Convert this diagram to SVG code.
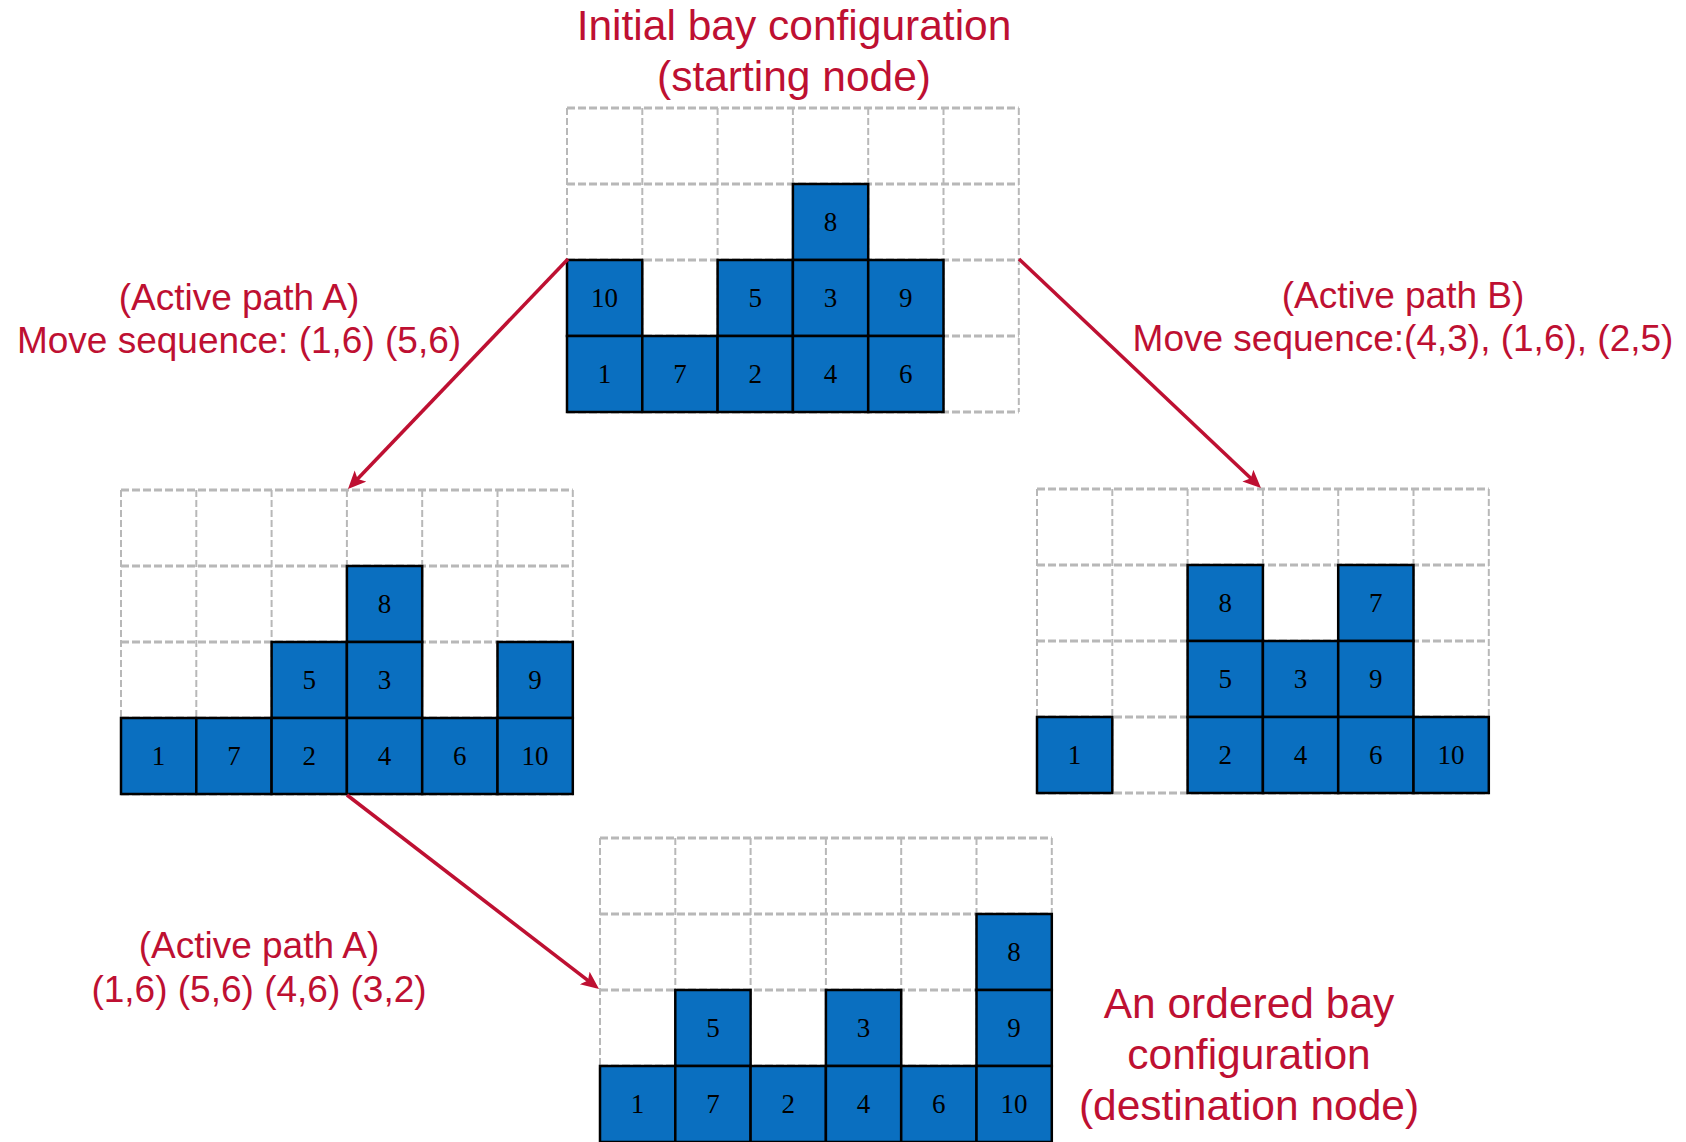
<svg xmlns="http://www.w3.org/2000/svg" width="1686" height="1142" viewBox="0 0 1686 1142">
  <style>
    .grid { fill: none; stroke: #b8b8b8; stroke-width: 2; stroke-dasharray: 7 3; }
    .gridh { fill: none; stroke: #b8b8b8; stroke-width: 3; stroke-dasharray: 8 3; }
    .box { fill: #0A6FC0; stroke: #000; stroke-width: 2.5; }
    .num { font-family: "Liberation Serif", "Times New Roman", serif; font-size: 27px; fill: #000; text-anchor: middle; }
    .title { font-family: "Liberation Sans", Arial, sans-serif; font-size: 42.5px; fill: #BE1032; text-anchor: middle; }
    .lbl { font-family: "Liberation Sans", Arial, sans-serif; font-size: 37px; fill: #BE1032; text-anchor: middle; }
    .edge { stroke: #BE1032; stroke-width: 3.5; fill: none; marker-end: url(#head); }
  </style>
  <defs>
    <marker id="head" markerUnits="userSpaceOnUse" markerWidth="22" markerHeight="18" refX="8" refY="8" orient="auto">
      <path d="M0,0 L18,8 L0,16 L4,8 z" fill="#BE1032"/>
    </marker>
    <!-- empty 6x4 bay outline: dashed cell borders -->
    <g id="bay">
      <path class="grid" d="M0,0 V304 M75.3,0 V304 M150.6,0 V304 M225.9,0 V304 M301.2,0 V304 M376.5,0 V304 M451.8,0 V304"/>
      <path class="gridh" d="M0,0 H451.8 M0,76 H451.8 M0,152 H451.8 M0,228 H451.8 M0,304 H451.8"/>
    </g>
  </defs>
  <rect width="1686" height="1142" fill="#fff"/>

  <!-- starting node -->
  <g id="node-start" transform="translate(567,108)">
    <use href="#bay"/>
    <rect class="box" x="225.9" y="76" width="75.3" height="76"/><text class="num" x="263.5" y="123">8</text>
    <rect class="box" x="0" y="152" width="75.3" height="76"/><text class="num" x="37.6" y="199">10</text>
    <rect class="box" x="150.6" y="152" width="75.3" height="76"/><text class="num" x="188.2" y="199">5</text>
    <rect class="box" x="225.9" y="152" width="75.3" height="76"/><text class="num" x="263.5" y="199">3</text>
    <rect class="box" x="301.2" y="152" width="75.3" height="76"/><text class="num" x="338.8" y="199">9</text>
    <rect class="box" x="0" y="228" width="75.3" height="76"/><text class="num" x="37.6" y="275">1</text>
    <rect class="box" x="75.3" y="228" width="75.3" height="76"/><text class="num" x="112.9" y="275">7</text>
    <rect class="box" x="150.6" y="228" width="75.3" height="76"/><text class="num" x="188.2" y="275">2</text>
    <rect class="box" x="225.9" y="228" width="75.3" height="76"/><text class="num" x="263.5" y="275">4</text>
    <rect class="box" x="301.2" y="228" width="75.3" height="76"/><text class="num" x="338.8" y="275">6</text>
  </g>

  <!-- path A, intermediate node -->
  <g id="node-a" transform="translate(121,490)">
    <use href="#bay"/>
    <rect class="box" x="225.9" y="76" width="75.3" height="76"/><text class="num" x="263.5" y="123">8</text>
    <rect class="box" x="150.6" y="152" width="75.3" height="76"/><text class="num" x="188.2" y="199">5</text>
    <rect class="box" x="225.9" y="152" width="75.3" height="76"/><text class="num" x="263.5" y="199">3</text>
    <rect class="box" x="376.5" y="152" width="75.3" height="76"/><text class="num" x="414.1" y="199">9</text>
    <rect class="box" x="0" y="228" width="75.3" height="76"/><text class="num" x="37.6" y="275">1</text>
    <rect class="box" x="75.3" y="228" width="75.3" height="76"/><text class="num" x="112.9" y="275">7</text>
    <rect class="box" x="150.6" y="228" width="75.3" height="76"/><text class="num" x="188.2" y="275">2</text>
    <rect class="box" x="225.9" y="228" width="75.3" height="76"/><text class="num" x="263.5" y="275">4</text>
    <rect class="box" x="301.2" y="228" width="75.3" height="76"/><text class="num" x="338.8" y="275">6</text>
    <rect class="box" x="376.5" y="228" width="75.3" height="76"/><text class="num" x="414.1" y="275">10</text>
  </g>

  <!-- path B node -->
  <g id="node-b" transform="translate(1037,489)">
    <use href="#bay"/>
    <rect class="box" x="150.6" y="76" width="75.3" height="76"/><text class="num" x="188.2" y="123">8</text>
    <rect class="box" x="301.2" y="76" width="75.3" height="76"/><text class="num" x="338.8" y="123">7</text>
    <rect class="box" x="150.6" y="152" width="75.3" height="76"/><text class="num" x="188.2" y="199">5</text>
    <rect class="box" x="225.9" y="152" width="75.3" height="76"/><text class="num" x="263.5" y="199">3</text>
    <rect class="box" x="301.2" y="152" width="75.3" height="76"/><text class="num" x="338.8" y="199">9</text>
    <rect class="box" x="0" y="228" width="75.3" height="76"/><text class="num" x="37.6" y="275">1</text>
    <rect class="box" x="150.6" y="228" width="75.3" height="76"/><text class="num" x="188.2" y="275">2</text>
    <rect class="box" x="225.9" y="228" width="75.3" height="76"/><text class="num" x="263.5" y="275">4</text>
    <rect class="box" x="301.2" y="228" width="75.3" height="76"/><text class="num" x="338.8" y="275">6</text>
    <rect class="box" x="376.5" y="228" width="75.3" height="76"/><text class="num" x="414.1" y="275">10</text>
  </g>

  <!-- destination node -->
  <g id="node-end" transform="translate(600,838)">
    <use href="#bay"/>
    <rect class="box" x="376.5" y="76" width="75.3" height="76"/><text class="num" x="414.1" y="123">8</text>
    <rect class="box" x="75.3" y="152" width="75.3" height="76"/><text class="num" x="112.9" y="199">5</text>
    <rect class="box" x="225.9" y="152" width="75.3" height="76"/><text class="num" x="263.5" y="199">3</text>
    <rect class="box" x="376.5" y="152" width="75.3" height="76"/><text class="num" x="414.1" y="199">9</text>
    <rect class="box" x="0" y="228" width="75.3" height="76"/><text class="num" x="37.6" y="275">1</text>
    <rect class="box" x="75.3" y="228" width="75.3" height="76"/><text class="num" x="112.9" y="275">7</text>
    <rect class="box" x="150.6" y="228" width="75.3" height="76"/><text class="num" x="188.2" y="275">2</text>
    <rect class="box" x="225.9" y="228" width="75.3" height="76"/><text class="num" x="263.5" y="275">4</text>
    <rect class="box" x="301.2" y="228" width="75.3" height="76"/><text class="num" x="338.8" y="275">6</text>
    <rect class="box" x="376.5" y="228" width="75.3" height="76"/><text class="num" x="414.1" y="275">10</text>
  </g>

  <!-- transitions -->
  <g id="connectors">
    <line class="edge" x1="568" y1="259" x2="354.9" y2="481.8"/>
    <line class="edge" x1="1019" y1="259" x2="1253.7" y2="481.1"/>
    <line class="edge" x1="347" y1="795" x2="591.1" y2="982.9"/>
  </g>

  <!-- captions -->
  <g id="labels">
    <text class="title" x="794" y="40">Initial bay configuration</text>
    <text class="title" x="794" y="91">(starting node)</text>
    <text class="lbl" x="239" y="310">(Active path A)</text>
    <text class="lbl" x="239" y="353">Move sequence: (1,6) (5,6)</text>
    <text class="lbl" x="1403" y="308">(Active path B)</text>
    <text class="lbl" x="1403" y="351">Move sequence:(4,3), (1,6), (2,5)</text>
    <text class="lbl" x="259" y="958">(Active path A)</text>
    <text class="lbl" x="259" y="1002">(1,6) (5,6) (4,6) (3,2)</text>
    <text class="title" x="1249" y="1018">An ordered bay</text>
    <text class="title" x="1249" y="1069">configuration</text>
    <text class="title" x="1249" y="1120">(destination node)</text>
  </g>
</svg>
